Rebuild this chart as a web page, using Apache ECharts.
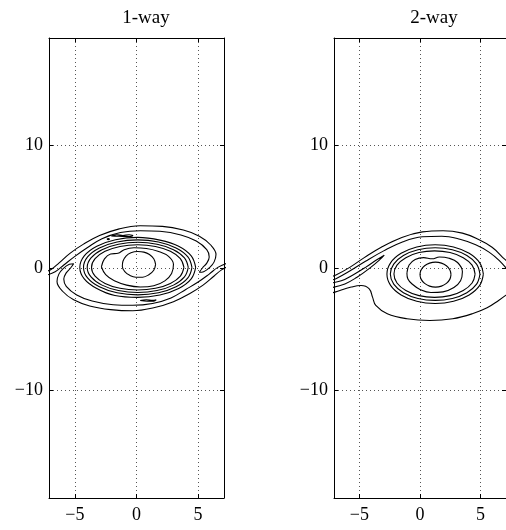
<!DOCTYPE html>
<html>
<head>
<meta charset="utf-8">
<script src="https://cdn.jsdelivr.net/npm/echarts@6/dist/echarts.min.js"></script>
<style>
  html, body { margin: 0; padding: 0; background: #fff; }
  #chart { width: 506px; height: 530px; }
</style>
</head>
<body>
<div id="chart"></div>
<script>
// Panel titles and axis ticks
const panelTitles = ['1-way', '2-way'];
const xTicks = [-5, 0, 5];
const yTicks = [-10, 0, 10];
const xRange = [-7.1, 7.1];
const yRange = [-18.8, 18.8];

// ---- 1-way: contour lines, [x, y] ----
const oneWayArmUpper = [[-7.5,-0.35],[-6.9,-0.1],[-6.3,0.4],[-5.4,1.2],[-4.3,1.95],[-3.0,2.65],[-1.4,3.2],[0.3,3.45],[2.1,3.4],[3.8,3.1],[5.1,2.6],[6.0,1.9],[6.45,1.1],[6.3,0.5],[5.95,0.05],[5.45,-0.3],[5.1,-0.35],[5.35,0.0],[5.7,0.4],[5.9,0.9],[5.7,1.5],[4.85,2.2],[3.6,2.7],[1.9,3.0],[0.3,3.05],[-1.3,2.9],[-2.8,2.4],[-4.0,1.65],[-5.0,0.95],[-5.9,0.25],[-6.6,-0.3],[-7.5,-0.65],[-7.5,-0.35]];
const oneWayArmLower = [[7.5,0.15],[6.9,-0.15],[6.3,-0.65],[5.4,-1.4],[4.3,-2.1],[3.0,-2.75],[1.4,-3.25],[-0.3,-3.5],[-2.1,-3.4],[-3.8,-3.1],[-5.1,-2.6],[-6.0,-1.9],[-6.45,-1.1],[-6.3,-0.5],[-5.95,-0.05],[-5.45,0.3],[-5.1,0.35],[-5.35,0.0],[-5.7,-0.4],[-5.9,-0.9],[-5.7,-1.5],[-4.85,-2.2],[-3.6,-2.7],[-1.9,-3.0],[-0.3,-3.05],[1.3,-2.9],[2.8,-2.45],[4.0,-1.75],[5.0,-1.15],[5.9,-0.5],[6.6,0.05],[7.5,0.45],[7.5,0.15]];
const oneWayRing1 = [[4.8,0.05],[4.44,0.99],[3.42,1.78],[1.9,2.28],[0.1,2.5],[-1.7,2.31],[-3.22,1.78],[-4.24,0.99],[-4.6,0.05],[-4.24,-0.89],[-3.22,-1.68],[-1.75,-2.25],[0.1,-2.4],[1.9,-2.21],[3.42,-1.68],[4.44,-0.89],[4.8,0.05]];
const oneWayRing2 = [[4.5,0.05],[4.17,0.91],[3.21,1.64],[1.78,2.13],[0.1,2.3],[-1.58,2.13],[-3.01,1.64],[-3.97,0.91],[-4.3,0.05],[-3.97,-0.81],[-3.01,-1.54],[-1.58,-2.03],[0.1,-2.2],[1.78,-2.03],[3.21,-1.54],[4.17,-0.81],[4.5,0.05]];
const oneWayRing3 = [[4.2,0.05],[3.89,0.83],[3.0,1.5],[1.67,1.94],[0.1,2.1],[-1.47,1.94],[-2.8,1.5],[-3.69,0.83],[-4.0,0.05],[-3.69,-0.73],[-2.8,-1.4],[-1.47,-1.84],[0.1,-2.0],[1.67,-1.84],[3.0,-1.4],[3.89,-0.73],[4.2,0.05]];
const oneWayRing4 = [[3.85,0.05],[3.56,0.76],[2.75,1.36],[1.54,1.76],[0.1,1.9],[-1.34,1.76],[-2.55,1.36],[-3.36,0.76],[-3.65,0.05],[-3.36,-0.66],[-2.55,-1.26],[-1.34,-1.66],[0.1,-1.8],[1.54,-1.66],[2.75,-1.26],[3.56,-0.66],[3.85,0.05]];
const oneWayWavy = [[-2.85,0.1],[-2.6,0.75],[-2.1,1.15],[-1.5,1.2],[-1.0,1.5],[-0.2,1.65],[0.8,1.6],[1.8,1.35],[2.6,0.95],[3.0,0.3],[2.85,-0.45],[2.3,-1.05],[1.4,-1.45],[0.3,-1.55],[-0.8,-1.4],[-1.8,-1.05],[-2.5,-0.55],[-2.85,0.1]];
const oneWayCore = [[1.55,0.3],[1.4,0.75],[1.05,1.1],[0.6,1.3],[0.1,1.35],[-0.45,1.25],[-0.85,0.98],[-1.1,0.55],[-1.15,0.12],[-0.95,-0.3],[-0.55,-0.6],[-0.05,-0.75],[0.5,-0.75],[1.0,-0.55],[1.4,-0.18],[1.55,0.3]];
const oneWayPatchTop = [[-2.05,2.62],[-1.6,2.72],[-1.1,2.66],[-0.6,2.72],[-0.3,2.64],[-0.7,2.58],[-1.15,2.58],[-1.6,2.6],[-2.05,2.62]];
const oneWayDot = [[-2.4,2.36],[-2.3,2.41],[-2.2,2.36],[-2.3,2.32],[-2.4,2.36]];
const oneWayPatchBottom = [[0.3,-2.66],[0.8,-2.6],[1.3,-2.65],[1.6,-2.6],[1.4,-2.71],[0.9,-2.72],[0.3,-2.66]];

// ---- 2-way: contour lines, [x, y] ----
const twoWayOuterBand = [[-7.5,-0.75],[-6.9,-0.55],[-5.8,0.05],[-4.6,0.85],[-3.2,1.7],[-1.5,2.5],[0.2,2.95],[1.9,3.05],[3.5,2.85],[4.8,2.35],[5.95,1.7],[6.7,1.0],[7.4,0.1],[7.4,-0.35],[6.55,0.6],[5.7,1.3],[4.6,1.9],[3.3,2.35],[1.8,2.6],[0.2,2.55],[-1.4,2.15],[-3.0,1.4],[-4.5,0.55],[-5.8,-0.25],[-6.9,-0.85],[-7.5,-1.05],[-7.5,-0.75]];
const twoWayArm = [[-7.5,-1.25],[-6.5,-1.05],[-5.5,-0.55],[-4.5,0.05],[-3.6,0.65],[-2.95,1.05],[-3.3,0.7],[-4.2,-0.05],[-5.2,-0.75],[-6.2,-1.3],[-7.5,-1.65],[-7.5,-1.25]];
const twoWayLower = [[-7.5,-2.1],[-7.03,-1.97],[-5.68,-1.56],[-4.86,-1.43],[-4.19,-1.7],[-3.92,-2.38],[-3.65,-3.06],[-2.7,-3.74],[-1.08,-4.15],[0.81,-4.29],[2.7,-4.15],[4.32,-3.74],[5.54,-3.25],[6.49,-2.65],[7.4,-2.0]];
const twoWayRing1 = [[5.23,-0.5],[4.93,0.42],[4.06,1.2],[2.77,1.72],[1.25,1.9],[-0.27,1.72],[-1.56,1.2],[-2.43,0.42],[-2.73,-0.5],[-2.43,-1.42],[-1.56,-2.2],[-0.27,-2.72],[1.25,-2.9],[2.77,-2.72],[4.06,-2.2],[4.93,-1.42],[5.23,-0.5]];
const twoWayRing2 = [[4.95,-0.5],[4.67,0.32],[3.87,1.02],[2.67,1.49],[1.25,1.65],[-0.17,1.49],[-1.37,1.02],[-2.17,0.32],[-2.45,-0.5],[-2.17,-1.32],[-1.37,-2.02],[-0.17,-2.49],[1.25,-2.65],[2.67,-2.49],[3.87,-2.02],[4.67,-1.32],[4.95,-0.5]];
const twoWayRing3 = [[4.55,-0.5],[4.3,0.23],[3.57,0.84],[2.48,1.26],[1.2,1.4],[-0.08,1.26],[-1.17,0.84],[-1.9,0.23],[-2.15,-0.5],[-1.9,-1.23],[-1.17,-1.84],[-0.08,-2.26],[1.2,-2.4],[2.48,-2.26],[3.57,-1.84],[4.3,-1.23],[4.55,-0.5]];
const twoWayWavy = [[-1.08,-0.4],[-0.9,0.25],[-0.4,0.7],[0.3,0.85],[1.0,0.75],[1.6,0.9],[2.4,0.8],[3.1,0.45],[3.5,-0.3],[3.35,-1.05],[2.8,-1.6],[1.9,-1.95],[0.9,-2.0],[0.0,-1.75],[-0.6,-1.35],[-1.0,-0.9],[-1.08,-0.4]];
const twoWayCore = [[2.56,-0.54],[2.46,-0.15],[2.18,0.18],[1.77,0.4],[1.28,0.48],[0.79,0.4],[0.38,0.18],[0.1,-0.15],[0.0,-0.54],[0.1,-0.93],[0.38,-1.26],[0.79,-1.48],[1.28,-1.56],[1.77,-1.48],[2.18,-1.26],[2.46,-0.93],[2.56,-0.54]];

const oneWayContours = [oneWayArmUpper, oneWayArmLower, oneWayRing1, oneWayRing2, oneWayRing3, oneWayRing4, oneWayWavy, oneWayCore, oneWayPatchTop, oneWayDot, oneWayPatchBottom];
const twoWayContours = [twoWayOuterBand, twoWayArm, twoWayLower, twoWayRing1, twoWayRing2, twoWayRing3, twoWayWavy, twoWayCore];

const FONT = 'Liberation Serif';
const grids = [
  { left: 49, top: 38, width: 175, height: 460 },
  { left: 334, top: 38, width: 176, height: 460 }
];
const titleCenters = [141, 429];

const fmt = v => (v < 0 ? '\u2212' + Math.abs(v) : String(v));

const xAxes = [], yAxes = [], titles = [], series = [];
grids.forEach((g, i) => {
  titles.push({
    text: panelTitles[i], left: titleCenters[i], top: 4, textAlign: 'center',
    textStyle: { fontFamily: FONT, fontSize: 19, fontWeight: 'normal', color: '#000' }
  });
  // bottom axis with labels and dotted grid
  xAxes.push({
    gridIndex: i, type: 'value', position: 'bottom', min: xRange[0], max: xRange[1],
    axisLine: { show: true, onZero: false, lineStyle: { color: '#000', width: 1 } },
    axisTick: { show: true, inside: true, length: 4, customValues: xTicks, lineStyle: { color: '#000' } },
    axisLabel: { show: true, customValues: xTicks, formatter: fmt, margin: 8, color: '#000', fontFamily: FONT, fontSize: 18 },
    splitLine: { show: true, lineStyle: { type: [1, 3], color: '#555', width: 1 } }
  });
  // top axis: ticks only
  xAxes.push({
    gridIndex: i, type: 'value', position: 'top', min: xRange[0], max: xRange[1],
    axisLine: { show: true, onZero: false, lineStyle: { color: '#000', width: 1 } },
    axisTick: { show: true, inside: true, length: 4, customValues: xTicks, lineStyle: { color: '#000' } },
    axisLabel: { show: false }, splitLine: { show: false }
  });
  yAxes.push({
    gridIndex: i, type: 'value', position: 'left', min: yRange[0], max: yRange[1],
    axisLine: { show: true, onZero: false, lineStyle: { color: '#000', width: 1 } },
    axisTick: { show: true, inside: true, length: 4, customValues: yTicks, lineStyle: { color: '#000' } },
    axisLabel: { show: true, customValues: yTicks, formatter: fmt, margin: 6, color: '#000', fontFamily: FONT, fontSize: 18 },
    splitLine: { show: true, lineStyle: { type: [1, 3], color: '#555', width: 1 } }
  });
  yAxes.push({
    gridIndex: i, type: 'value', position: 'right', min: yRange[0], max: yRange[1],
    axisLine: { show: true, onZero: false, lineStyle: { color: '#000', width: 1 } },
    axisTick: { show: true, inside: true, length: 4, customValues: yTicks, lineStyle: { color: '#000' } },
    axisLabel: { show: false }, splitLine: { show: false }
  });
});

function addContours(list, panel) {
  list.forEach(pts => {
    series.push({
      type: 'line', xAxisIndex: panel * 2, yAxisIndex: panel * 2,
      data: pts, smooth: 0.4, showSymbol: false, symbol: 'none', silent: true,
      clip: true, animation: false,
      lineStyle: { color: '#000', width: 1.1 }
    });
  });
}
addContours(oneWayContours, 0);
addContours(twoWayContours, 1);

const chart = echarts.init(document.getElementById('chart'), null, { renderer: 'canvas' });
chart.setOption({
  animation: false,
  backgroundColor: '#fff',
  title: titles,
  grid: grids.map(g => Object.assign({ containLabel: false }, g)),
  xAxis: xAxes,
  yAxis: yAxes,
  series: series
});
</script>
</body>
</html>
